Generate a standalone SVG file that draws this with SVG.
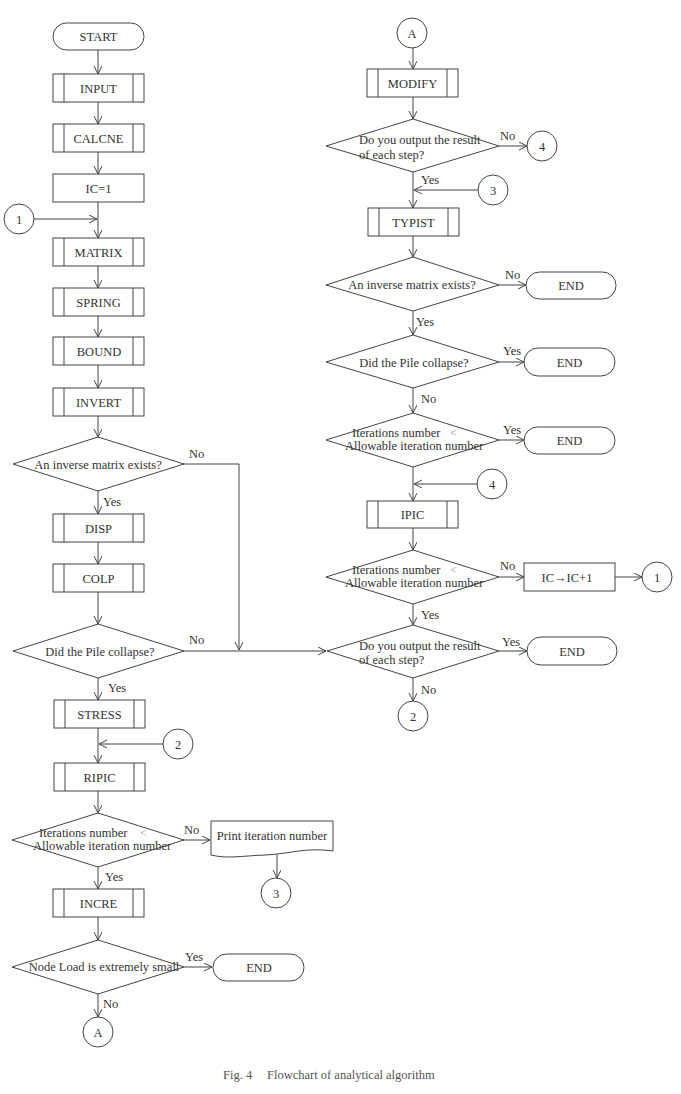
<svg xmlns="http://www.w3.org/2000/svg" width="681" height="1094" viewBox="0 0 681 1094">
<defs>
<marker id="ah" markerWidth="10" markerHeight="10" refX="8" refY="4" orient="auto" markerUnits="userSpaceOnUse">
<path d="M0,0 L8,4 L0,8" fill="none" stroke="#444" stroke-width="1"/>
</marker>
<style>
.s{fill:#fff;stroke:#444;stroke-width:1}
.l{fill:none;stroke:#444;stroke-width:1}
.a{fill:none;stroke:#444;stroke-width:1;marker-end:url(#ah)}
.t{font-family:"Liberation Serif","Times New Roman",serif;font-size:12.5px;fill:#333}
.m{text-anchor:middle}
.lt{fill:#999}
.cap{font-family:"Liberation Serif","Times New Roman",serif;font-size:12.5px;fill:#555}
</style>
</defs>
<rect width="681" height="1094" fill="#fff"/>

<g id="connectors">
<line class="a" x1="98" y1="50" x2="98" y2="74"/>
<line class="a" x1="98" y1="102" x2="98" y2="124"/>
<line class="a" x1="98" y1="152" x2="98" y2="174"/>
<line class="a" x1="98" y1="202" x2="98" y2="238"/>
<line class="a" x1="34" y1="219" x2="97" y2="219"/>
<line class="a" x1="98" y1="266" x2="98" y2="288"/>
<line class="a" x1="98" y1="316" x2="98" y2="337"/>
<line class="a" x1="98" y1="365" x2="98" y2="388"/>
<line class="a" x1="98" y1="416" x2="98" y2="437"/>
<line class="a" x1="98" y1="491" x2="98" y2="514"/>
<line class="a" x1="98" y1="542" x2="98" y2="564"/>
<line class="a" x1="98" y1="592" x2="98" y2="624"/>
<line class="a" x1="98" y1="678" x2="98" y2="700"/>
<line class="a" x1="98" y1="728" x2="98" y2="763"/>
<line class="a" x1="163" y1="744" x2="99" y2="744"/>
<line class="a" x1="98" y1="791" x2="98" y2="813"/>
<line class="a" x1="98" y1="867" x2="98" y2="889"/>
<line class="a" x1="98" y1="917" x2="98" y2="940"/>
<line class="a" x1="98" y1="994" x2="98" y2="1017"/>
<line class="a" x1="184" y1="840" x2="210" y2="840"/>
<line class="a" x1="277" y1="855" x2="277" y2="878"/>
<line class="a" x1="184" y1="967" x2="212" y2="967"/>
<polyline class="a" points="184,464 239,464 239,650"/>
<line class="a" x1="184" y1="651" x2="326" y2="651"/>

<line class="a" x1="413" y1="48" x2="413" y2="69"/>
<line class="a" x1="413" y1="97" x2="413" y2="119"/>
<line class="a" x1="499" y1="146" x2="527" y2="146"/>
<line class="a" x1="413" y1="172" x2="413" y2="208"/>
<line class="a" x1="478" y1="190" x2="414" y2="190"/>
<line class="a" x1="413" y1="236" x2="413" y2="257"/>
<line class="a" x1="499" y1="285" x2="526" y2="285"/>
<line class="a" x1="413" y1="311" x2="413" y2="335"/>
<line class="a" x1="499" y1="362" x2="524" y2="362"/>
<line class="a" x1="413" y1="388" x2="413" y2="413"/>
<line class="a" x1="499" y1="440" x2="524" y2="440"/>
<line class="a" x1="413" y1="467" x2="413" y2="501"/>
<line class="a" x1="477" y1="484" x2="414" y2="484"/>
<line class="a" x1="413" y1="528" x2="413" y2="550"/>
<line class="a" x1="499" y1="577" x2="524" y2="577"/>
<line class="a" x1="615" y1="577" x2="642" y2="577"/>
<line class="a" x1="413" y1="604" x2="413" y2="625"/>
<line class="a" x1="499" y1="651" x2="527" y2="651"/>
<line class="a" x1="413" y1="678" x2="413" y2="701"/>

<text class="t" x="189" y="458">No</text>
<text class="t" x="103" y="506">Yes</text>
<text class="t" x="189" y="644">No</text>
<text class="t" x="108" y="692">Yes</text>
<text class="t" x="184" y="834">No</text>
<text class="t" x="105" y="881">Yes</text>
<text class="t" x="185" y="961">Yes</text>
<text class="t" x="103" y="1008">No</text>

<text class="t" x="500" y="140">No</text>
<text class="t" x="421" y="184">Yes</text>
<text class="t" x="505" y="279">No</text>
<text class="t" x="416" y="326">Yes</text>
<text class="t" x="503" y="355">Yes</text>
<text class="t" x="421" y="403">No</text>
<text class="t" x="503" y="434">Yes</text>
<text class="t" x="500" y="570">No</text>
<text class="t" x="421" y="619">Yes</text>
<text class="t" x="502" y="646">Yes</text>
<text class="t" x="421" y="694">No</text>
</g>

<g id="start"><rect class="s" x="53" y="23" width="91" height="27" rx="13.5"/><text class="t m" x="98.5" y="41">START</text></g>
<g id="input"><rect class="s" x="53" y="74" width="91" height="28"/><line class="l" x1="64" y1="74" x2="64" y2="102"/><line class="l" x1="133" y1="74" x2="133" y2="102"/><text class="t m" x="98.5" y="92.5">INPUT</text></g>
<g id="calcne"><rect class="s" x="53" y="124" width="91" height="28"/><line class="l" x1="64" y1="124" x2="64" y2="152"/><line class="l" x1="133" y1="124" x2="133" y2="152"/><text class="t m" x="98.5" y="142.5">CALCNE</text></g>
<g id="ic1"><rect class="s" x="53" y="174" width="91" height="28"/><text class="t m" x="98.5" y="192.5">IC=1</text></g>
<g id="c1left"><circle class="s" cx="19" cy="219" r="15"/><text class="t m" x="19" y="223.5">1</text></g>
<g id="matrix"><rect class="s" x="53" y="238" width="91" height="28"/><line class="l" x1="64" y1="238" x2="64" y2="266"/><line class="l" x1="133" y1="238" x2="133" y2="266"/><text class="t m" x="98.5" y="256.5">MATRIX</text></g>
<g id="spring"><rect class="s" x="53" y="288" width="91" height="28"/><line class="l" x1="64" y1="288" x2="64" y2="316"/><line class="l" x1="133" y1="288" x2="133" y2="316"/><text class="t m" x="98.5" y="306.5">SPRING</text></g>
<g id="bound"><rect class="s" x="53" y="337" width="91" height="28"/><line class="l" x1="64" y1="337" x2="64" y2="365"/><line class="l" x1="133" y1="337" x2="133" y2="365"/><text class="t m" x="99" y="355.5">BOUND</text></g>
<g id="invert"><rect class="s" x="53" y="388" width="91" height="28"/><line class="l" x1="64" y1="388" x2="64" y2="416"/><line class="l" x1="133" y1="388" x2="133" y2="416"/><text class="t m" x="98.5" y="406.5">INVERT</text></g>
<g id="d1"><polygon class="s" points="98,437 184,464 98,491 13,464"/><text class="t m" x="98" y="468.5">An inverse matrix exists?</text></g>
<g id="disp"><rect class="s" x="53" y="514" width="91" height="28"/><line class="l" x1="64" y1="514" x2="64" y2="542"/><line class="l" x1="133" y1="514" x2="133" y2="542"/><text class="t m" x="98.5" y="532.5">DISP</text></g>
<g id="colp"><rect class="s" x="53" y="564" width="91" height="28"/><line class="l" x1="64" y1="564" x2="64" y2="592"/><line class="l" x1="133" y1="564" x2="133" y2="592"/><text class="t m" x="98.5" y="582.5">COLP</text></g>
<g id="d2"><polygon class="s" points="98,624 184,651 98,678 13,651"/><text class="t m" x="100" y="655.5">Did the Pile collapse?</text></g>
<g id="stress"><rect class="s" x="54" y="700" width="91" height="28"/><line class="l" x1="65" y1="700" x2="65" y2="728"/><line class="l" x1="134" y1="700" x2="134" y2="728"/><text class="t m" x="99.5" y="718.5">STRESS</text></g>
<g id="c2left"><circle class="s" cx="178" cy="744" r="15"/><text class="t m" x="178" y="748.5">2</text></g>
<g id="ripic"><rect class="s" x="54" y="763" width="91" height="28"/><line class="l" x1="65" y1="763" x2="65" y2="791"/><line class="l" x1="134" y1="763" x2="134" y2="791"/><text class="t m" x="99.5" y="781.5">RIPIC</text></g>
<g id="d3"><polygon class="s" points="98,813 184,840 98,867 12,840"/><text class="t" x="39" y="837">Iterations number</text><text class="t lt" x="140" y="837">&lt;</text><text class="t" x="33" y="850">Allowable iteration number</text></g>
<g id="print"><path class="s" d="M211,821 H333 V851 C305,847 290,854 265,855 C240,856 228,859 211,855 Z"/><text class="t m" x="272" y="840">Print iteration number</text></g>
<g id="c3left"><circle class="s" cx="276" cy="893" r="15"/><text class="t m" x="276" y="897.5">3</text></g>
<g id="incre"><rect class="s" x="53" y="889" width="91" height="28"/><line class="l" x1="64" y1="889" x2="64" y2="917"/><line class="l" x1="133" y1="889" x2="133" y2="917"/><text class="t m" x="98.5" y="907.5">INCRE</text></g>
<g id="d4"><polygon class="s" points="98,940 184,967 98,994 12,967"/><text class="t m" x="104" y="971">Node Load is extremely small</text></g>
<g id="end1"><rect class="s" x="213" y="954" width="91" height="27" rx="13.5"/><text class="t m" x="259" y="972">END</text></g>
<g id="cAleft"><circle class="s" cx="98" cy="1032" r="15"/><text class="t m" x="98" y="1036.5">A</text></g>

<g id="cAright"><circle class="s" cx="412" cy="33" r="15"/><text class="t m" x="412" y="37.5">A</text></g>
<g id="modify"><rect class="s" x="367" y="69" width="91" height="28"/><line class="l" x1="378" y1="69" x2="378" y2="97"/><line class="l" x1="447" y1="69" x2="447" y2="97"/><text class="t m" x="412.5" y="87.5">MODIFY</text></g>
<g id="d5"><polygon class="s" points="413,119 499,146 413,172 326,146"/><text class="t" x="359" y="144">Do you output the result</text><text class="t" x="359" y="159">of each step?</text></g>
<g id="c4a"><circle class="s" cx="542" cy="146" r="15"/><text class="t m" x="542" y="150.5">4</text></g>
<g id="c3right"><circle class="s" cx="493" cy="190" r="15"/><text class="t m" x="493" y="194.5">3</text></g>
<g id="typist"><rect class="s" x="368" y="208" width="91" height="28"/><line class="l" x1="379" y1="208" x2="379" y2="236"/><line class="l" x1="448" y1="208" x2="448" y2="236"/><text class="t m" x="413.5" y="226.5">TYPIST</text></g>
<g id="d6"><polygon class="s" points="413,257 499,285 413,311 326,285"/><text class="t m" x="412" y="289">An inverse matrix exists?</text></g>
<g id="end2"><rect class="s" x="526" y="272" width="90" height="27" rx="13.5"/><text class="t m" x="571" y="290">END</text></g>
<g id="d7"><polygon class="s" points="413,335 499,362 413,388 326,362"/><text class="t m" x="414" y="366.5">Did the Pile collapse?</text></g>
<g id="end3"><rect class="s" x="524" y="348" width="91" height="28" rx="14"/><text class="t m" x="569.5" y="366.5">END</text></g>
<g id="d8"><polygon class="s" points="413,413 499,440 413,467 326,440"/><text class="t" x="352" y="437">Iterations number</text><text class="t lt" x="450" y="437">&lt;</text><text class="t" x="345" y="450">Allowable iteration number</text></g>
<g id="end4"><rect class="s" x="524" y="427" width="91" height="27" rx="13.5"/><text class="t m" x="569.5" y="445">END</text></g>
<g id="c4b"><circle class="s" cx="492" cy="484" r="15"/><text class="t m" x="492" y="488.5">4</text></g>
<g id="ipic"><rect class="s" x="367" y="501" width="91" height="27"/><line class="l" x1="378" y1="501" x2="378" y2="528"/><line class="l" x1="447" y1="501" x2="447" y2="528"/><text class="t m" x="412.5" y="519">IPIC</text></g>
<g id="d9"><polygon class="s" points="413,550 499,577 413,604 326,577"/><text class="t" x="352" y="574">Iterations number</text><text class="t lt" x="450" y="574">&lt;</text><text class="t" x="345" y="587">Allowable iteration number</text></g>
<g id="icinc"><rect class="s" x="524" y="563" width="91" height="28"/><text class="t m" x="567" y="581.5">IC→IC+1</text></g>
<g id="c1right"><circle class="s" cx="657" cy="577" r="15"/><text class="t m" x="657" y="581.5">1</text></g>
<g id="d10"><polygon class="s" points="413,625 499,651 413,678 327,651"/><text class="t" x="359" y="650">Do you output the result</text><text class="t" x="359" y="664">of each step?</text></g>
<g id="end5"><rect class="s" x="527" y="637" width="90" height="28" rx="14"/><text class="t m" x="572" y="655.5">END</text></g>
<g id="c2right"><circle class="s" cx="413" cy="716" r="15"/><text class="t m" x="413" y="720.5">2</text></g>

<g id="caption"><text class="cap" x="223" y="1079">Fig. 4</text><text class="cap" x="267" y="1079">Flowchart of analytical algorithm</text></g>
</svg>
